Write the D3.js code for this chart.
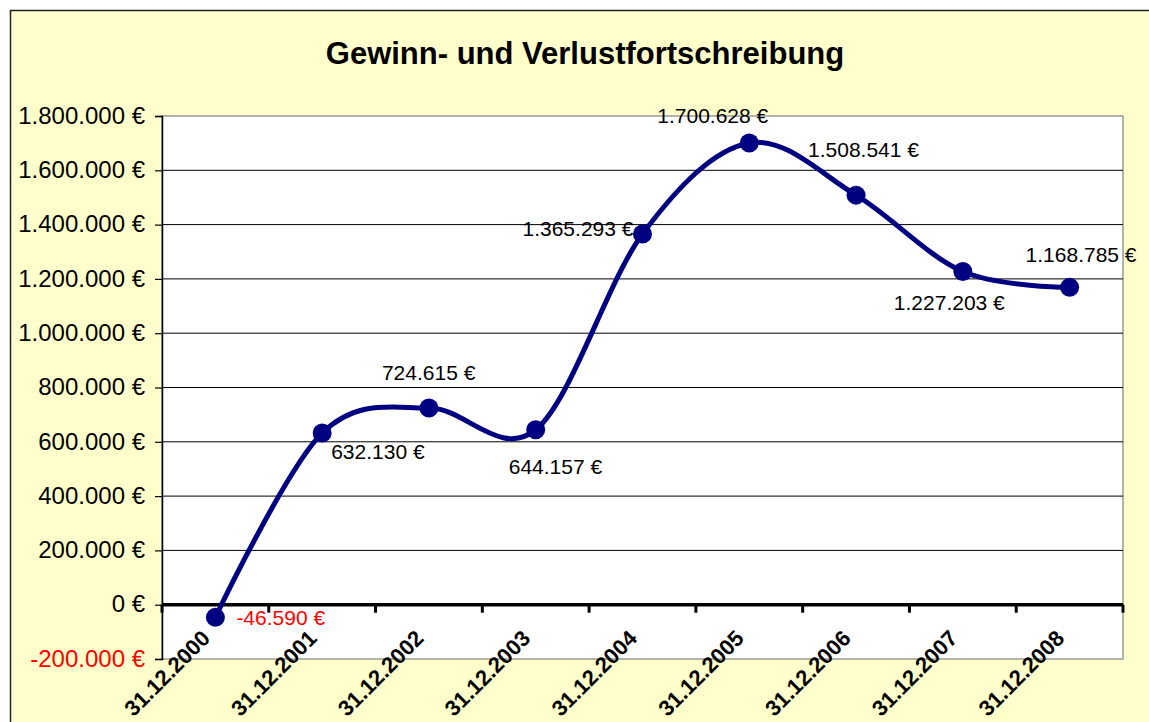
<!DOCTYPE html>
<html>
<head>
<meta charset="utf-8">
<script src="https://cdn.jsdelivr.net/npm/d3@7"></script>
<style>
  body { margin: 0; background: #fff; }
  text { font-family: Arial, "Liberation Sans", sans-serif; }
</style>
</head>
<body>
<div id="chart"></div>
<script>
// Gewinn- und Verlustfortschreibung

// data
const dates = ["31.12.2000", "31.12.2001", "31.12.2002", "31.12.2003", "31.12.2004",
               "31.12.2005", "31.12.2006", "31.12.2007", "31.12.2008"];
const values = [-46590, 632130, 724615, 644157, 1365293, 1700628, 1508541, 1227203, 1168785];
const yTicks = [-200000, 0, 200000, 400000, 600000, 800000, 1000000, 1200000, 1400000, 1600000, 1800000];

// label offsets (from the marker centre), text-anchor start
const labelOffsets = [[21, 8], [9, 26], [-47, -28], [-27, 44], [-120, 2],
                      [-92, -20], [-48, -38], [-69, 38], [-44, -25]];

const W = 1149, H = 722;
const plot = {left: 162, right: 1123, top: 116, bottom: 659};

const svg = d3.select("#chart").append("svg")
  .attr("width", W)
  .attr("height", H);

// chart area
svg.append("rect")
  .attr("x", 10.5).attr("y", 10.5)
  .attr("width", W + 20).attr("height", H + 20)
  .attr("fill", "#FFFFCC")
  .attr("stroke", "#222")
  .attr("stroke-width", 1.5);

// title
svg.append("text")
  .attr("x", 585)
  .attr("y", 64)
  .attr("text-anchor", "middle")
  .attr("font-size", "31px")
  .attr("font-weight", "bold")
  .attr("fill", "#000")
  .text("Gewinn- und Verlustfortschreibung");

// scales
const x = d3.scaleBand()
  .domain(dates)
  .range([plot.left, plot.right])
  .padding(0);

const y = d3.scaleLinear()
  .domain([-200000, 1800000])
  .range([plot.bottom, plot.top]);

const de = d3.formatLocale({decimal: ",", thousands: ".", grouping: [3], currency: ["", " €"], minus: "-"});
const fmt = de.format("$,.0f");

// plot area
svg.append("rect")
  .attr("x", plot.left).attr("y", plot.top)
  .attr("width", plot.right - plot.left)
  .attr("height", plot.bottom - plot.top)
  .attr("fill", "#fff")
  .attr("stroke", "#808080")
  .attr("stroke-width", 1.2);

// gridlines
svg.append("g")
  .selectAll("line")
  .data(yTicks.filter(d => d !== 0 && d !== 1800000 && d !== -200000))
  .enter().append("line")
    .attr("x1", plot.left).attr("x2", plot.right)
    .attr("y1", d => y(d)).attr("y2", d => y(d))
    .attr("stroke", "#000")
    .attr("stroke-width", 1);

// y axis
const yAxis = svg.append("g")
  .attr("transform", `translate(${plot.left},0)`)
  .call(d3.axisLeft(y).tickValues(yTicks).tickFormat(fmt).tickSize(7).tickPadding(10));
yAxis.select(".domain").attr("stroke", "#000").attr("stroke-width", 1.5);
yAxis.selectAll(".tick line").attr("stroke", "#000").attr("stroke-width", 1.2);
yAxis.selectAll(".tick text")
  .attr("font-size", "24px")
  .attr("font-family", "Arial, 'Liberation Sans', sans-serif")
  .attr("fill", d => d < 0 ? "#FF0000" : "#000")
  .attr("dy", "0.3em");

// x axis at zero
const y0 = y(0);
svg.append("line")
  .attr("x1", plot.left).attr("x2", plot.right)
  .attr("y1", y0).attr("y2", y0)
  .attr("stroke", "#000")
  .attr("stroke-width", 3.5);

const bounds = dates.map(d => x(d)).concat([plot.right]);
svg.append("g")
  .selectAll("line")
  .data(bounds)
  .enter().append("line")
    .attr("x1", d => d).attr("x2", d => d)
    .attr("y1", y0).attr("y2", y0 + 8)
    .attr("stroke", "#000")
    .attr("stroke-width", 3);

svg.append("g")
  .selectAll("text")
  .data(dates)
  .enter().append("text")
    .attr("transform", d => `translate(${x(d) + x.bandwidth() / 2 - 4},${y0 + 35}) rotate(-45)`)
    .attr("text-anchor", "end")
    .attr("font-size", "22px")
    .attr("font-weight", "bold")
    .attr("fill", "#000")
    .text(d => d);

// smoothed line
const pts = dates.map((d, i) => ({date: d, value: values[i]}));
const line = d3.line()
  .x(d => x(d.date) + x.bandwidth() / 2)
  .y(d => y(d.value))
  .curve(d3.curveCardinal.tension(0));

svg.append("path")
  .datum(pts)
  .attr("fill", "none")
  .attr("stroke", "#000080")
  .attr("stroke-width", 5)
  .attr("stroke-linejoin", "round")
  .attr("d", line);

svg.append("g")
  .selectAll("circle")
  .data(pts)
  .enter().append("circle")
    .attr("cx", d => x(d.date) + x.bandwidth() / 2)
    .attr("cy", d => y(d.value))
    .attr("r", 9.5)
    .attr("fill", "#000080");

// data labels
svg.append("g")
  .selectAll("text")
  .data(pts)
  .enter().append("text")
    .attr("x", (d, i) => x(d.date) + x.bandwidth() / 2 + labelOffsets[i][0])
    .attr("y", (d, i) => y(d.value) + labelOffsets[i][1])
    .attr("font-size", "21px")
    .attr("fill", d => d.value < 0 ? "#FF0000" : "#000")
    .text(d => fmt(d.value));
</script>
</body>
</html>
